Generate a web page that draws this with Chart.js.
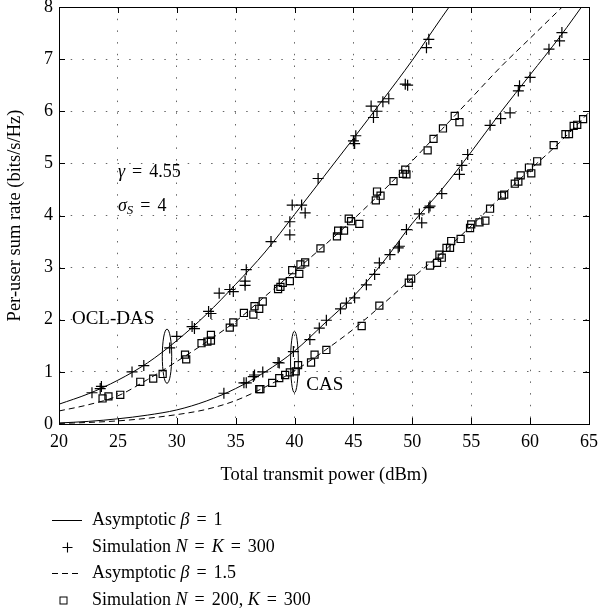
<!DOCTYPE html>
<html><head><meta charset="utf-8">
<script src="https://cdn.jsdelivr.net/npm/chart.js@4/dist/chart.umd.min.js"></script>
<style>html,body{margin:0;padding:0;background:#fff}</style>
</head><body>
<canvas id="c" width="598" height="615"></canvas>
<script>
// ---- data ----
const xTicks = [20, 25, 30, 35, 40, 45, 50, 55, 60, 65];
const yTicks = [0, 1, 2, 3, 4, 5, 6, 7, 8];
const curveX = [20, 22.5, 25, 27.5, 30, 32.5, 35, 37.5, 40, 42.5, 45, 47.5, 50, 52.5, 55, 57.5, 60, 62.5, 65];
const oclAsymBeta1   = [0.38, 0.58, 0.84, 1.17, 1.60, 2.10, 2.68, 3.30, 4.02, 4.75, 5.48, 6.22, 6.98, 7.80, 8.60];
const oclAsymBeta15  = [0.25, 0.37, 0.54, 0.85, 1.20, 1.57, 1.97, 2.45, 2.93, 3.42, 3.93, 4.47, 5.05, 5.65, 6.25, 6.85, 7.40, 7.95, 8.50];
const casAsymBeta1   = [0.02, 0.05, 0.10, 0.17, 0.27, 0.44, 0.68, 1.00, 1.40, 1.92, 2.45, 3.10, 3.85, 4.50, 5.22, 5.98, 6.70, 7.42, 8.20];
const casAsymBeta15  = [0.01, 0.03, 0.06, 0.11, 0.18, 0.28, 0.45, 0.71, 1.02, 1.40, 1.82, 2.30, 2.80, 3.28, 3.80, 4.35, 4.88, 5.40, 5.98];

const oclSimNKx = [22.8, 23.5, 23.6, 26.2, 27.2, 29.4, 30.0, 31.3, 31.5, 32.7, 32.9, 33.6, 34.5, 34.8, 35.9, 35.8, 35.8, 38.0, 39.6, 39.6, 39.8, 40.6, 40.9, 42.0, 45.0, 45.2, 45.1, 46.7, 47.0, 46.5, 47.5, 48.0, 49.4, 49.6, 51.2, 51.4];
const oclSimNKy = [0.60, 0.68, 0.72, 1.00, 1.12, 1.46, 1.68, 1.87, 1.83, 2.16, 2.12, 2.51, 2.58, 2.54, 2.96, 2.74, 2.66, 3.50, 3.88, 3.63, 4.20, 4.20, 4.05, 4.71, 5.43, 5.53, 5.38, 5.88, 6.00, 6.10, 6.18, 6.24, 6.52, 6.50, 7.22, 7.38];
const oclSimN200x = [23.7, 24.2, 25.2, 26.9, 28.0, 28.8, 30.7, 30.8, 32.1, 32.6, 32.9, 32.9, 34.5, 34.8, 35.7, 36.5, 36.6, 37.0, 37.3, 38.6, 38.8, 39.0, 39.6, 39.8, 40.5, 40.4, 40.9, 42.2, 43.6, 43.7, 44.2, 44.6, 44.8, 45.5, 46.9, 47.3, 47.0, 48.4, 49.2, 49.4, 49.5, 51.3, 51.8, 52.6, 53.6, 54.0];
const oclSimN200y = [0.49, 0.53, 0.56, 0.81, 0.87, 0.96, 1.33, 1.24, 1.55, 1.58, 1.71, 1.60, 1.85, 1.95, 2.13, 2.10, 2.26, 2.21, 2.35, 2.59, 2.63, 2.71, 2.74, 2.95, 3.06, 2.88, 3.10, 3.37, 3.60, 3.71, 3.71, 3.94, 3.89, 3.84, 4.29, 4.38, 4.46, 4.66, 4.80, 4.88, 4.79, 5.25, 5.47, 5.67, 5.91, 5.79];
const casSimNKx = [34.0, 35.7, 35.9, 36.5, 36.6, 37.3, 38.6, 38.7, 39.9, 41.3, 42.1, 42.7, 43.9, 44.4, 45.1, 46.1, 46.8, 47.2, 48.1, 48.8, 48.9, 49.5, 50.6, 50.8, 51.4, 51.5, 52.5, 54.0, 54.2, 54.7, 56.6, 57.5, 58.3, 59.0, 59.1, 60.0, 61.6, 62.5, 62.7];
const casSimNKy = [0.59, 0.79, 0.79, 0.91, 0.94, 1.00, 1.18, 1.17, 1.39, 1.62, 1.84, 1.99, 2.21, 2.32, 2.42, 2.67, 2.87, 3.09, 3.25, 3.38, 3.41, 3.73, 4.03, 3.86, 4.15, 4.18, 4.42, 4.79, 4.96, 5.17, 5.73, 5.86, 5.97, 6.39, 6.49, 6.65, 7.19, 7.35, 7.51];
const casSimN200x = [37.0, 37.1, 38.1, 38.7, 39.2, 39.6, 40.1, 40.3, 41.4, 41.7, 42.7, 45.7, 47.2, 49.7, 49.9, 51.5, 52.1, 52.5, 52.3, 52.9, 53.2, 53.3, 54.1, 54.9, 55.0, 55.7, 56.2, 56.6, 57.6, 57.8, 58.7, 59.0, 59.2, 60.1, 59.9, 60.6, 62.0, 63.0, 63.3, 63.7, 64.0, 64.5];
const casSimN200y = [0.67, 0.67, 0.79, 0.88, 0.94, 0.99, 1.01, 1.13, 1.18, 1.33, 1.42, 1.88, 2.27, 2.71, 2.79, 3.04, 3.09, 3.19, 3.25, 3.38, 3.38, 3.51, 3.55, 3.76, 3.83, 3.87, 3.90, 4.13, 4.38, 4.40, 4.61, 4.65, 4.77, 4.81, 4.92, 5.04, 5.35, 5.56, 5.56, 5.72, 5.74, 5.85];

const legendLabels = ["Asymptotic β = 1", "Simulation N = K = 300", "Asymptotic β = 1.5", "Simulation N = 200, K = 300"];
const annotationTexts = ["γ = 4.55", "σS = 4", "OCL-DAS", "CAS"];
// annotation anchors (data coordinates)
const annotationX = [25.0, 25.0, 21.1, 41.0];
const annotationY = [4.83, 4.17, 2.02, 0.75];
// ellipses grouping the two systems: centre and half-axes (data units)
const ellipseCx = [29.17, 39.99];
const ellipseCy = [1.30, 1.19];
const ellipseRx = [0.40, 0.33];
const ellipseRy = [0.52, 0.59];

const FONT = "'Liberation Serif', 'Times New Roman', serif";
const FS = 18;

function pts(xs, ys) { return ys.map((y, i) => ({x: xs[i], y})); }

// draws segments; "=" and "," get math-style extra spacing
function drawRich(ctx, segs, x, y, size) {
  let cx = x;
  for (const [t, it, sub] of segs) {
    const s = sub ? size * 0.72 : size;
    ctx.font = (it ? 'italic ' : '') + s + 'px ' + FONT;
    const yy = sub ? y + size * 0.22 : y;
    for (const ch of t) {
      if (ch === '=') { cx += 2.5; ctx.fillText(ch, cx, yy); cx += ctx.measureText(ch).width + 2.5; }
      else { ctx.fillText(ch, cx, yy); cx += ctx.measureText(ch).width; }
    }
  }
}
// split a label into roman/italic segments: greek letters and single-letter variables italic
function segsOf(str) {
  if (str === "σS = 4") return [["σ", true], ["S", true, true], [" = 4", false]];
  const out = [];
  const tokens = str.split(/(\s+|,)/).filter(t => t !== '');
  for (const tk of tokens) {
    const it = /^[βγσ]$/.test(tk) || /^[NK]$/.test(tk);
    if (out.length && out[out.length - 1][1] === it) out[out.length - 1][0] += tk;
    else out.push([tk, it]);
  }
  return out;
}

const extras = {
  id: 'extras',
  afterDatasetsDraw(chart) {
    const {ctx, chartArea: a, scales: {x, y}} = chart;
    ctx.save();
    // ellipses
    ctx.strokeStyle = '#000'; ctx.lineWidth = 1;
    for (let i = 0; i < ellipseCx.length; i++) {
      const cx = x.getPixelForValue(ellipseCx[i]), cy = y.getPixelForValue(ellipseCy[i]);
      const rx = Math.abs(x.getPixelForValue(ellipseCx[i] + ellipseRx[i]) - cx);
      const ry = Math.abs(y.getPixelForValue(ellipseCy[i] + ellipseRy[i]) - cy);
      ctx.beginPath(); ctx.ellipse(cx, cy, rx, ry, 0, 0, Math.PI * 2); ctx.stroke();
    }
    // box
    ctx.strokeStyle = '#000'; ctx.lineWidth = 1;
    ctx.strokeRect(Math.round(a.left) + 0.5, Math.round(a.top) + 0.5, Math.round(a.right - a.left), Math.round(a.bottom - a.top));
    // inward ticks on all sides
    const tl = 6;
    ctx.beginPath();
    for (const v of xTicks) {
      const px = Math.round(x.getPixelForValue(v)) + 0.5;
      ctx.moveTo(px, a.bottom); ctx.lineTo(px, a.bottom - tl);
      ctx.moveTo(px, a.top); ctx.lineTo(px, a.top + tl);
    }
    for (const v of yTicks) {
      const py = Math.round(y.getPixelForValue(v)) + 0.5;
      ctx.moveTo(a.left, py); ctx.lineTo(a.left + tl, py);
      ctx.moveTo(a.right, py); ctx.lineTo(a.right - tl, py);
    }
    ctx.stroke();
    // annotations
    ctx.fillStyle = '#000'; ctx.textBaseline = 'middle'; ctx.textAlign = 'left';
    for (let i = 0; i < annotationTexts.length; i++) {
      drawRich(ctx, segsOf(annotationTexts[i]), x.getPixelForValue(annotationX[i]), y.getPixelForValue(annotationY[i]), i >= 2 ? 19 : FS);
    }
    // legend
    const rowY = [520, 547, 573, 600];
    const sx0 = 52, sx1 = 82, tx = 92;
    for (let i = 0; i < legendLabels.length; i++) {
      const ry = rowY[i];
      ctx.strokeStyle = '#000'; ctx.lineWidth = 1;
      ctx.beginPath();
      if (i === 0) { ctx.setLineDash([]); ctx.moveTo(sx0, ry + 0.5); ctx.lineTo(sx1, ry + 0.5); ctx.stroke(); }
      else if (i === 2) { ctx.setLineDash([6, 4]); ctx.moveTo(sx0, ry + 0.5); ctx.lineTo(sx1, ry + 0.5); ctx.stroke(); ctx.setLineDash([]); }
      else if (i === 1) { ctx.lineWidth = 1.1; ctx.moveTo(67.5 - 5, ry + 0.5); ctx.lineTo(67.5 + 5, ry + 0.5); ctx.moveTo(67.5, ry - 4.5); ctx.lineTo(67.5, ry + 5.5); ctx.stroke(); }
      else { ctx.strokeRect(63.5 - 3.5, ry - 3, 7, 7); }
      ctx.fillStyle = '#000';
      drawRich(ctx, segsOf(legendLabels[i]), tx, ry, FS);
    }
    ctx.restore();
  }
};

const lineDs = (label, ys, dash) => ({
  type: 'line', label, data: pts(curveX, ys), borderColor: '#000', borderWidth: 1,
  borderDash: dash, pointRadius: 0, fill: false, cubicInterpolationMode: 'monotone', order: 1
});
const simDs = (label, xs, ys, style, r) => ({
  type: 'scatter', label, data: pts(xs, ys), showLine: false, pointStyle: style, pointRadius: r,
  pointBorderColor: '#000', pointBackgroundColor: 'rgba(0,0,0,0)', pointBorderWidth: 1.2, order: 0
});

new Chart(document.getElementById('c'), {
  data: {
    datasets: [
      lineDs('OCL-DAS asymptotic β=1', oclAsymBeta1, []),
      lineDs('OCL-DAS asymptotic β=1.5', oclAsymBeta15, [6, 4]),
      lineDs('CAS asymptotic β=1', casAsymBeta1, []),
      lineDs('CAS asymptotic β=1.5', casAsymBeta15, [6, 4]),
      simDs('OCL-DAS simulation N=K=300', oclSimNKx, oclSimNKy, 'cross', 5.5),
      simDs('OCL-DAS simulation N=200,K=300', oclSimN200x, oclSimN200y, 'rect', 5),
      simDs('CAS simulation N=K=300', casSimNKx, casSimNKy, 'cross', 5.5),
      simDs('CAS simulation N=200,K=300', casSimN200x, casSimN200y, 'rect', 5)
    ]
  },
  options: {
    responsive: false, animation: false, devicePixelRatio: 1,
    layout: {padding: {left: 0, right: 9, top: 7, bottom: 615 - 424 - 62}},
    plugins: {legend: {display: false}, tooltip: {enabled: false}},
    scales: {
      x: {
        type: 'linear', min: 20, max: 65,
        afterBuildTicks(s) { s.ticks = xTicks.map(v => ({value: v})); },
        afterFit(s) { s.height = 62; s.paddingLeft = 0; s.paddingRight = 0; },
        ticks: {color: '#000', font: {family: FONT, size: FS}, padding: 7, maxRotation: 0},
        grid: {drawTicks: false, color: '#666', lineWidth: 1},
        border: {display: false, dash: [1.5, 10.2]},
        title: {display: true, text: 'Total transmit power (dBm)', color: '#000', font: {family: FONT, size: 18.5}, padding: {top: 0, bottom: 0}}
      },
      y: {
        type: 'linear', min: 0, max: 8,
        afterBuildTicks(s) { s.ticks = yTicks.map(v => ({value: v})); },
        afterFit(s) { s.width = 59; s.paddingTop = 0; s.paddingBottom = 0; },
        ticks: {color: '#000', font: {family: FONT, size: FS}, padding: 6},
        grid: {drawTicks: false, color: '#666', lineWidth: 1},
        border: {display: false, dash: [1.5, 10.2]},
        title: {display: true, text: 'Per-user sum rate (bits/s/Hz)', color: '#000', font: {family: FONT, size: 18.5}, padding: {top: 4, bottom: 0}}
      }
    }
  },
  plugins: [extras]
});
</script>
</body></html>
